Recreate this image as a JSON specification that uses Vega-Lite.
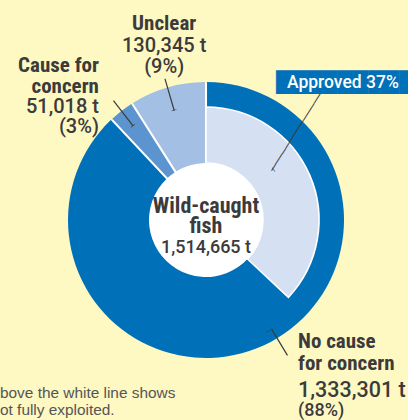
{
  "$schema": "https://vega.github.io/schema/vega-lite/v6.json",
  "width": 404,
  "height": 400,
  "autosize": {"type": "none"},
  "padding": {"left": 4, "top": 20, "right": 0, "bottom": 0},
  "background": "#fef8c3",
  "config": {"view": {"stroke": null}, "text": {"font": "Roboto, Liberation Sans, sans-serif", "fontWeight": 500, "fill": "#3b3b3b"}},
  "datasets": {
    "status": [
      {"status": "No cause for concern", "tonnes": 1333301, "share": 88},
      {"status": "Cause for concern", "tonnes": 51018, "share": 3},
      {"status": "Unclear", "tonnes": 130345, "share": 9}
    ],
    "approval": [
      {"part": "Approved", "share": 37},
      {"part": "Not approved", "share": 63}
    ],
    "total": [
      {"label": "Wild-caught fish", "tonnes": 1514665}
    ]
  },
  "resolve": {"scale": {"theta": "independent", "color": "independent", "fill": "independent", "stroke": "independent"}},
  "layer": [
    {
      "data": {"name": "total"},
      "mark": {"type": "arc", "fill": "#ffffff"},
      "encoding": {
        "theta": {"field": "tonnes", "type": "quantitative", "stack": true},
        "radius": {"value": 136.5}
      }
    },
    {
      "data": {"name": "status"},
      "transform": [{"window": [{"op": "row_number", "as": "rank"}]}],
      "mark": {"type": "arc", "padAngle": 0.014},
      "encoding": {
        "theta": {"field": "share", "type": "quantitative", "stack": true},
        "order": {"field": "rank", "type": "quantitative"},
        "color": {"field": "status", "type": "nominal", "legend": null,
          "scale": {"domain": ["No cause for concern", "Cause for concern", "Unclear"], "range": ["#0070b8", "#5b94cf", "#a4bfe4"]}},
        "radius": {"value": 138},
        "radius2": {"value": 57}
      }
    },
    {
      "data": {"name": "approval"},
      "transform": [{"window": [{"op": "row_number", "as": "rank"}]}],
      "mark": {"type": "arc", "strokeWidth": 1.6},
      "encoding": {
        "theta": {"field": "share", "type": "quantitative", "stack": true},
        "order": {"field": "rank", "type": "quantitative"},
        "fill": {"field": "part", "type": "nominal", "legend": null,
          "scale": {"domain": ["Approved", "Not approved"], "range": ["#d5e0f2", "transparent"]}},
        "stroke": {"condition": {"test": "datum.part === 'Approved'", "value": "#ffffff"}, "value": "transparent"},
        "radius": {"value": 113},
        "radius2": {"value": 57}
      }
    },
    {
      "data": {"name": "status"},
      "transform": [{"window": [{"op": "row_number", "as": "rank"}]}],
      "mark": {"type": "arc", "padAngle": 3.1416, "fill": "transparent", "strokeWidth": 1.2},
      "encoding": {
        "theta": {"field": "share", "type": "quantitative", "stack": true},
        "order": {"field": "rank", "type": "quantitative"},
        "stroke": {"condition": {"test": "datum.status === 'Unclear'", "value": "#3b3b3b"}, "value": "transparent"},
        "radius": {"value": 147},
        "radius2": {"value": 114}
      }
    },
    {
      "data": {"name": "status"},
      "transform": [{"window": [{"op": "row_number", "as": "rank"}]}],
      "mark": {"type": "arc", "padAngle": 3.1416, "fill": "transparent", "strokeWidth": 5, "strokeCap": "round"},
      "encoding": {
        "theta": {"field": "share", "type": "quantitative", "stack": true},
        "order": {"field": "rank", "type": "quantitative"},
        "stroke": {"condition": {"test": "datum.status === 'Unclear'", "value": "#3b3b3b"}, "value": "transparent"},
        "radius": {"value": 114.6},
        "radius2": {"value": 114}
      }
    },
    {
      "data": {"name": "status"},
      "transform": [{"window": [{"op": "row_number", "as": "rank"}]}],
      "mark": {"type": "arc", "padAngle": 3.1416, "fill": "transparent", "strokeWidth": 1.2},
      "encoding": {
        "theta": {"field": "share", "type": "quantitative", "stack": true},
        "order": {"field": "rank", "type": "quantitative"},
        "stroke": {"condition": {"test": "datum.status === 'Cause for concern'", "value": "#3b3b3b"}, "value": "transparent"},
        "radius": {"value": 151},
        "radius2": {"value": 119}
      }
    },
    {
      "data": {"name": "status"},
      "transform": [{"window": [{"op": "row_number", "as": "rank"}]}],
      "mark": {"type": "arc", "padAngle": 3.1416, "fill": "transparent", "strokeWidth": 5, "strokeCap": "round"},
      "encoding": {
        "theta": {"field": "share", "type": "quantitative", "stack": true},
        "order": {"field": "rank", "type": "quantitative"},
        "stroke": {"condition": {"test": "datum.status === 'Cause for concern'", "value": "#3b3b3b"}, "value": "transparent"},
        "radius": {"value": 119.6},
        "radius2": {"value": 119}
      }
    },
    {
      "data": {"name": "total"},
      "mark": {"type": "arc", "theta": 2.6, "theta2": 2.6, "radius": 158, "radius2": 127, "fill": "transparent", "stroke": "#3b3b3b", "strokeWidth": 1.2},
      "encoding": {}
    },
    {
      "data": {"name": "total"},
      "mark": {"type": "arc", "theta": 2.63, "theta2": 2.63, "radius": 127.6, "radius2": 127, "fill": "transparent", "stroke": "#3b3b3b", "strokeWidth": 5, "strokeCap": "round"},
      "encoding": {}
    },
    {
      "data": {"name": "total"},
      "mark": {"type": "arc", "theta": 0.93, "theta2": 0.93, "radius": 84.6, "radius2": 84, "fill": "transparent", "stroke": "#3b3b3b", "strokeWidth": 5, "strokeCap": "round"},
      "encoding": {}
    },
    {
      "data": {"name": "approval"},
      "transform": [{"window": [{"op": "row_number", "as": "rank"}]}],
      "mark": {"type": "text", "font": "DejaVu Sans", "fontWeight": "normal", "fontSize": 11, "align": "center", "baseline": "middle", "angle": -57.7, "dx": 79.3, "fill": "#3b3b3b"},
      "encoding": {
        "theta": {"field": "share", "type": "quantitative", "stack": true},
        "order": {"field": "rank", "type": "quantitative"},
        "radius": {"value": 53},
        "text": {"condition": {"test": "datum.part === 'Approved'", "value": "──────────────"}, "value": ""}
      }
    },
    {
      "data": {"name": "approval"},
      "transform": [{"window": [{"op": "row_number", "as": "rank"}]}],
      "mark": {"type": "text", "font": "DejaVu Sans", "fontWeight": "normal", "fontSize": 20, "align": "left", "baseline": "alphabetic", "dx": -76.9, "dy": -67.9, "fill": "#0070b8"},
      "encoding": {
        "theta": {"field": "share", "type": "quantitative", "stack": true},
        "order": {"field": "rank", "type": "quantitative"},
        "radius": {"value": 160},
        "text": {"condition": {"test": "datum.part === 'Approved'", "value": "███████████"}, "value": ""}
      }
    },
    {
      "data": {"name": "approval"},
      "transform": [{"window": [{"op": "row_number", "as": "rank"}]}],
      "mark": {"type": "text", "fontSize": 17.5, "align": "left", "baseline": "alphabetic", "dx": -65.9, "dy": -68.5, "fill": "#ffffff"},
      "encoding": {
        "theta": {"field": "share", "type": "quantitative", "stack": true},
        "order": {"field": "rank", "type": "quantitative"},
        "radius": {"value": 160},
        "text": {"condition": {"test": "datum.part === 'Approved'", "value": "Approved 37%"}, "value": ""}
      }
    },
    {
      "data": {"name": "status"},
      "transform": [{"window": [{"op": "row_number", "as": "rank"}]}],
      "mark": {"type": "text", "font": "Liberation Sans Narrow, Roboto Condensed, DejaVu Sans Condensed, sans-serif", "fontWeight": "bold", "fontSize": 21, "align": "center", "baseline": "alphabetic", "dy": -46},
      "encoding": {
        "theta": {"field": "share", "type": "quantitative", "stack": true},
        "order": {"field": "rank", "type": "quantitative"},
        "radius": {"value": 150},
        "text": {"condition": {"test": "datum.status === 'Unclear'", "field": "status"}, "value": ""}
      }
    },
    {
      "data": {"name": "status"},
      "transform": [{"window": [{"op": "row_number", "as": "rank"}]}],
      "mark": {"type": "text", "fontSize": 20, "lineHeight": 21, "align": "center", "baseline": "alphabetic", "dy": -24},
      "encoding": {
        "theta": {"field": "share", "type": "quantitative", "stack": true},
        "order": {"field": "rank", "type": "quantitative"},
        "radius": {"value": 150},
        "text": {"condition": {"test": "datum.status === 'Unclear'", "value": ["130,345 t", "(9%)"]}, "value": ""}
      }
    },
    {
      "data": {"name": "status"},
      "transform": [{"window": [{"op": "row_number", "as": "rank"}]}],
      "mark": {"type": "text", "font": "Liberation Sans Narrow, Roboto Condensed, DejaVu Sans Condensed, sans-serif", "fontWeight": "bold", "fontSize": 21, "lineHeight": 21.6, "align": "right", "baseline": "alphabetic", "dx": -9, "dy": -22},
      "encoding": {
        "theta": {"field": "share", "type": "quantitative", "stack": true},
        "order": {"field": "rank", "type": "quantitative"},
        "radius": {"value": 160},
        "text": {"condition": {"test": "datum.status === 'Cause for concern'", "value": ["Cause for", "concern"]}, "value": ""}
      }
    },
    {
      "data": {"name": "status"},
      "transform": [{"window": [{"op": "row_number", "as": "rank"}]}],
      "mark": {"type": "text", "fontSize": 20, "lineHeight": 20, "align": "right", "baseline": "alphabetic", "dx": -9, "dy": 19.7},
      "encoding": {
        "theta": {"field": "share", "type": "quantitative", "stack": true},
        "order": {"field": "rank", "type": "quantitative"},
        "radius": {"value": 160},
        "text": {"condition": {"test": "datum.status === 'Cause for concern'", "value": ["51,018 t", "(3%)"]}, "value": ""}
      }
    },
    {
      "data": {"name": "status"},
      "transform": [{"window": [{"op": "row_number", "as": "rank"}]}],
      "mark": {"type": "text", "font": "Liberation Sans Narrow, Roboto Condensed, DejaVu Sans Condensed, sans-serif", "fontWeight": "bold", "fontSize": 21, "lineHeight": 22, "align": "left", "baseline": "alphabetic", "dx": 18.4, "dy": -57.7},
      "encoding": {
        "theta": {"field": "share", "type": "quantitative", "stack": true},
        "order": {"field": "rank", "type": "quantitative"},
        "radius": {"value": 200},
        "text": {"condition": {"test": "datum.status === 'No cause for concern'", "value": ["No cause", "for concern"]}, "value": ""}
      }
    },
    {
      "data": {"name": "status"},
      "transform": [{"window": [{"op": "row_number", "as": "rank"}]}],
      "mark": {"type": "text", "fontSize": 21.5, "align": "left", "baseline": "alphabetic", "dx": 18.4, "dy": -9.3},
      "encoding": {
        "theta": {"field": "share", "type": "quantitative", "stack": true},
        "order": {"field": "rank", "type": "quantitative"},
        "radius": {"value": 200},
        "text": {"condition": {"test": "datum.status === 'No cause for concern'", "value": "1,333,301 t"}, "value": ""}
      }
    },
    {
      "data": {"name": "status"},
      "transform": [{"window": [{"op": "row_number", "as": "rank"}]}],
      "mark": {"type": "text", "fontSize": 18, "align": "left", "baseline": "alphabetic", "dx": 18.4, "dy": 9.7},
      "encoding": {
        "theta": {"field": "share", "type": "quantitative", "stack": true},
        "order": {"field": "rank", "type": "quantitative"},
        "radius": {"value": 200},
        "text": {"condition": {"test": "datum.status === 'No cause for concern'", "value": "(88%)"}, "value": ""}
      }
    },
    {
      "data": {"name": "total"},
      "mark": {"type": "text", "font": "Liberation Sans Narrow, Roboto Condensed, DejaVu Sans Condensed, sans-serif", "fontWeight": "bold", "fontSize": 22, "lineHeight": 20, "lineBreak": " ", "align": "center", "baseline": "alphabetic", "dy": -7},
      "encoding": {"text": {"field": "label"}}
    },
    {
      "data": {"name": "total"},
      "mark": {"type": "text", "fontSize": 18, "align": "center", "baseline": "alphabetic", "dy": 33},
      "encoding": {"text": {"value": "1,514,665 t"}}
    },
    {
      "data": {"name": "total"},
      "mark": {"type": "text", "font": "Liberation Sans, Arial, sans-serif", "fontWeight": "normal", "fontSize": 15.4, "lineHeight": 16.7, "align": "left", "baseline": "alphabetic", "dx": -206, "dy": 178.3, "fill": "#555555"},
      "encoding": {"text": {"value": ["bove the white line shows", "ot fully exploited."]}}
    }
  ]
}
